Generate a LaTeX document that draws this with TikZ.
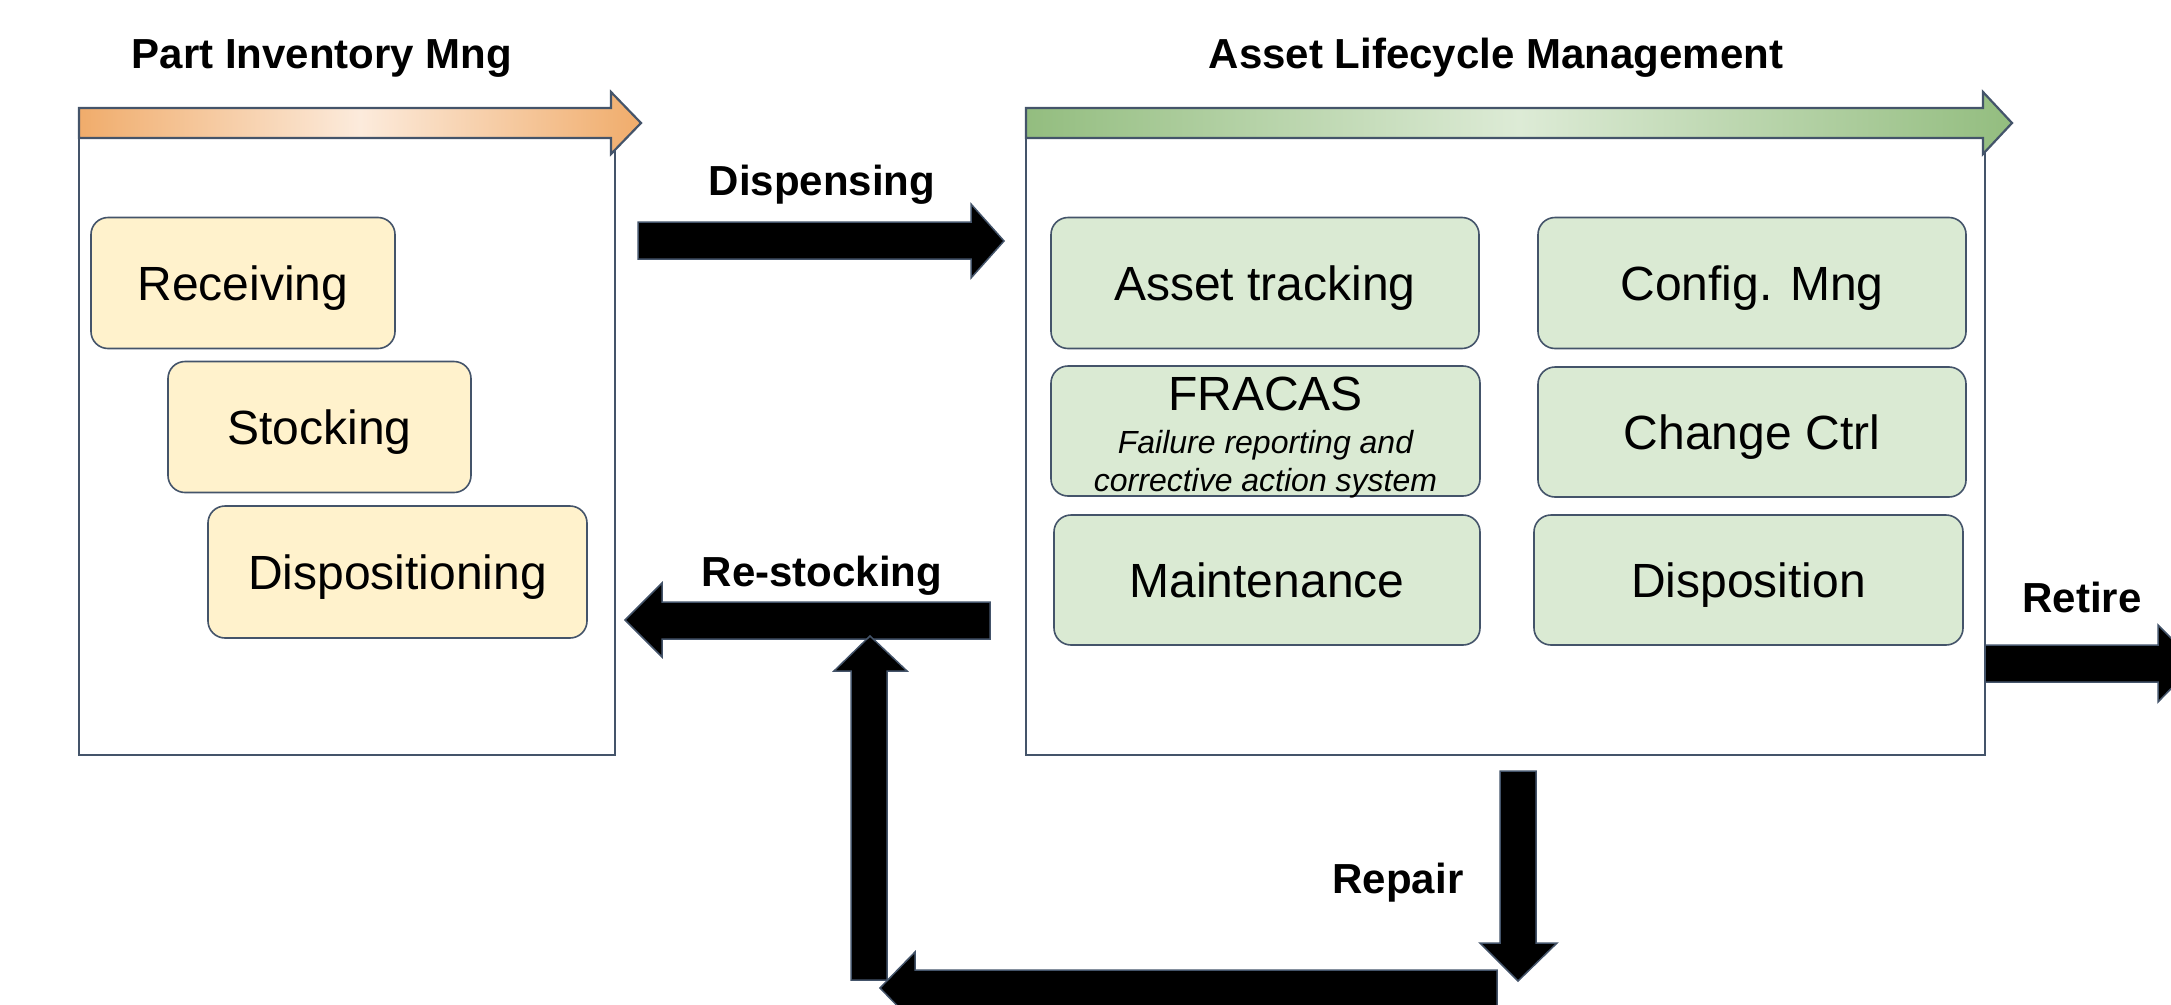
\documentclass[tikz,border=0pt]{standalone}
\usepackage{fontspec}
\setmainfont{Liberation Sans}
\definecolor{edge}{HTML}{44546A}
\definecolor{yel}{HTML}{FFF2CC}
\definecolor{grn}{HTML}{DAEAD3}
\definecolor{orgA}{HTML}{F0AC6B}
\definecolor{orgB}{HTML}{FCEBDC}
\definecolor{grnA}{HTML}{93BD7F}
\definecolor{grnB}{HTML}{DDEBD6}
\begin{document}
\begin{tikzpicture}[x=1pt,y=-1pt,
  panel/.style={draw=edge, line width=2pt, fill=white, inner sep=0pt, outer sep=0pt},
  ybox/.style={draw=edge, line width=1.6pt, fill=yel, rounded corners=17pt, inner sep=0pt, outer sep=0pt, minimum height=131pt, text height=34.4pt, text depth=0pt, font=\fontsize{48}{56}\selectfont},
  gbox/.style={draw=edge, line width=1.6pt, fill=grn, rounded corners=17pt, inner sep=0pt, outer sep=0pt, minimum height=131pt, minimum width=428pt, text height=34.4pt, text depth=0pt, font=\fontsize{48}{56}\selectfont},
  title/.style={anchor=base, font=\fontsize{42}{50}\selectfont\bfseries},
  lbl/.style={anchor=base, font=\fontsize{42}{50}\selectfont\bfseries},
  blk/.style={fill=black, draw=edge, line width=1.5pt, line join=miter},
  hdr/.style={draw=edge, line width=2.2pt, line join=miter}
]
\useasboundingbox (0,0) rectangle (2171,1004);
\clip (0,0) rectangle (2171,1004);

% panels
\node[panel, minimum width=536pt, minimum height=617pt] (pim) at (347,446.5) {};
\node[panel, minimum width=959pt, minimum height=617pt] (alm) at (1505.5,446.5) {};

% header arrows
\path[hdr, left color=orgA, right color=orgA, middle color=orgB]
  (79,108) -- (611,108) -- (611,92) -- (641,123) -- (611,154) -- (611,138) -- (79,138) -- cycle;
\path[hdr, left color=grnA, right color=grnA, middle color=grnB]
  (1026,108) -- (1983,108) -- (1983,92) -- (2012,123) -- (1983,154) -- (1983,138) -- (1026,138) -- cycle;

% titles
\node[title] (t1) at (322,68) {Part Inventory Mng};
\node[title] (t2) at (1496,68) {Asset Lifecycle Management};

% yellow boxes
\node[ybox, minimum width=304pt] (rcv) at (243,283) {Receiving};
\node[ybox, minimum width=303pt] (stk) at (319.5,427) {Stocking};
\node[ybox, minimum width=379pt, minimum height=132pt] (dsp) at (397.5,572) {Dispositioning};

% green boxes
\node[gbox] (ast) at (1265,283) {Asset tracking};
\node[gbox] (cfg) at (1752,283) {Config. Mng};
\node[gbox, minimum width=429pt, minimum height=130pt] (frc) at (1265.5,431) {};
\node[anchor=base, font=\fontsize{48}{56}\selectfont] (frct) at (1265.5,410) {FRACAS};
\node[anchor=base, font=\fontsize{32}{38}\selectfont\itshape] (frc1) at (1265.5,453) {Failure reporting and};
\node[anchor=base, font=\fontsize{32}{38}\selectfont\itshape] (frc2) at (1265.5,491) {corrective action system};
\node[gbox, minimum height=130pt] (chg) at (1752,432) {Change Ctrl};
\node[gbox, minimum width=426pt, minimum height=130pt] (mnt) at (1267,580) {Maintenance};
\node[gbox, minimum width=429pt, minimum height=130pt] (dps) at (1748.5,580) {Disposition};

% black block arrows
% Dispensing
\path[blk] (638,222) -- (971,222) -- (971,204) -- (1004,241) -- (971,278) -- (971,259) -- (638,259) -- cycle;
% Re-stocking
\path[blk] (990,602) -- (662,602) -- (662,583) -- (625,620) -- (662,657) -- (662,639) -- (990,639) -- cycle;
% up arrow
\path[blk] (851,980) -- (851,671) -- (834,671) -- (870,636) -- (907,671) -- (887,671) -- (887,980) -- cycle;
% bottom left arrow
\path[blk] (1497,970) -- (915,970) -- (915,952) -- (880,988) -- (915,1024) -- (915,1006) -- (1497,1006) -- cycle;
% down arrow (Repair)
\path[blk] (1500,771) -- (1536,771) -- (1536,943) -- (1557,943) -- (1518,981) -- (1480,943) -- (1500,943) -- cycle;
% Retire
\path[blk] (1985,645) -- (2158,645) -- (2158,625) -- (2196,663) -- (2158,702) -- (2158,682) -- (1985,682) -- cycle;

% labels
\node[lbl] (l1) at (822,195) {Dispensing};
\node[lbl] (l2) at (822,586) {Re-stocking};
\node[lbl] (l3) at (2082,612) {Retire};
\node[lbl] (l4) at (1398,893) {Repair};
\end{tikzpicture}
\end{document}
